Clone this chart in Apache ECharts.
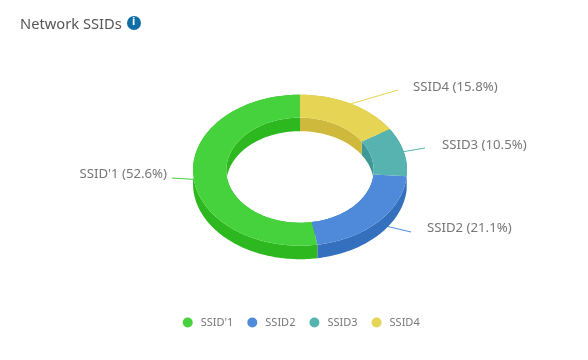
<!DOCTYPE html>
<html><head><meta charset="utf-8">
<style>html,body{margin:0;padding:0;background:#fff}#c{width:588px;height:360px}</style>
<script src="https://cdn.jsdelivr.net/npm/echarts@6/dist/echarts.min.js"></script>
</head><body><div id="c"></div>
<script>
const categories = ["SSID'1", "SSID2", "SSID3", "SSID4"];
const shares = [52.6, 21.1, 10.5, 15.8];
const topColors = ['#46D23C', '#4F89DA', '#57B3B0', '#E6D454'];
const wallColors = ['#2DB81F', '#3570BE', '#3E9896', '#CFB93C'];
const leaderEnds = [[172, 178], [411, 232], [425, 148], [398, 90]];
const labelAnchors = [[167, 174, 'right'], [427, 228, 'left'], [442, 145, 'left'], [413, 87, 'left']];

const CX = 300, CY = 170.2, RX = 107, RY = 75.5, IRX = 73.7, IRY = 52.5, DEPTH = 13.5;
const total = shares.reduce((a, b) => a + b, 0);
const FONT = '13.2px "Noto Sans",sans-serif';

function arc(rx, ry, a0, a1, dy) {
  const n = Math.max(2, Math.ceil(Math.abs(a1 - a0) / 0.02)), pts = [];
  for (let i = 0; i <= n; i++) {
    const a = a0 + (a1 - a0) * i / n;
    pts.push([CX + rx * Math.sin(a), CY - ry * Math.cos(a) + dy]);
  }
  return pts;
}
function sliceSeries(idx) {
  const before = shares.slice(0, idx).reduce((a, b) => a + b, 0);
  // slices run counter-clockwise from twelve o'clock
  const a0 = -before / total * 2 * Math.PI;
  const a1 = -(before + shares[idx]) / total * 2 * Math.PI;
  const mid = (a0 + a1) / 2;
  return {
    type: 'custom', name: categories[idx], coordinateSystem: 'none',
    itemStyle: { color: topColors[idx] }, data: [shares[idx]], animation: false,
    renderItem: function () {
      const wall = wallColors[idx], top = topColors[idx];
      const outerTop = arc(RX, RY, a0, a1, 0), innerTop = arc(IRX, IRY, a0, a1, 0);
      const outerLow = arc(RX, RY, a0, a1, DEPTH), innerLow = arc(IRX, IRY, a0, a1, DEPTH);
      const sx = CX + RX * Math.sin(mid), sy = CY - RY * Math.cos(mid) + (Math.cos(mid) < 0 ? 3 : 0);
      return { type: 'group', children: [
        { type: 'polygon', z2: 1, shape: { points: outerTop.concat(outerLow.slice().reverse()) }, style: { fill: wall } },
        { type: 'polygon', z2: 1, shape: { points: innerTop.concat(innerLow.slice().reverse()) }, style: { fill: wall } },
        { type: 'line', z2: 0, shape: { x1: sx, y1: sy, x2: leaderEnds[idx][0], y2: leaderEnds[idx][1] }, style: { stroke: top, lineWidth: 1 } },
        { type: 'polygon', z2: 2, shape: { points: outerTop.concat(innerTop.slice().reverse()) }, style: { fill: top } },
        { type: 'text', z2: 3, style: {
          text: categories[idx] + ' (' + shares[idx].toFixed(1) + '%)',
          x: labelAnchors[idx][0], y: labelAnchors[idx][1], align: labelAnchors[idx][2], verticalAlign: 'middle',
          fill: '#777', font: FONT } }
      ] };
    }
  };
}
const chart = echarts.init(document.getElementById('c'), null, { renderer: 'canvas' });
chart.setOption({
  animation: false,
  backgroundColor: '#fff',
  title: { text: 'Network SSIDs', left: 15, top: 12, textStyle: { fontFamily: 'Noto Sans', fontSize: 14.7, fontWeight: 'normal', color: '#555' } },
  legend: {
    data: categories, top: 312, left: 177.7, icon: 'circle', itemWidth: 10, itemHeight: 10, itemGap: 14,
    textStyle: { color: '#777', fontFamily: 'Noto Sans', fontSize: 11, padding: [0, 0, 0, 3] }
  },
  graphic: [
    { type: 'circle', left: 127, top: 16, shape: { r: 7 }, style: { fill: '#0F6EA8' } },
    { type: 'text', left: 132, top: 16, style: { text: 'i', fill: '#fff', font: 'bold 11px "Noto Sans"' } }
  ],
  series: categories.map((_, i) => sliceSeries(i))
});
</script></body></html>
